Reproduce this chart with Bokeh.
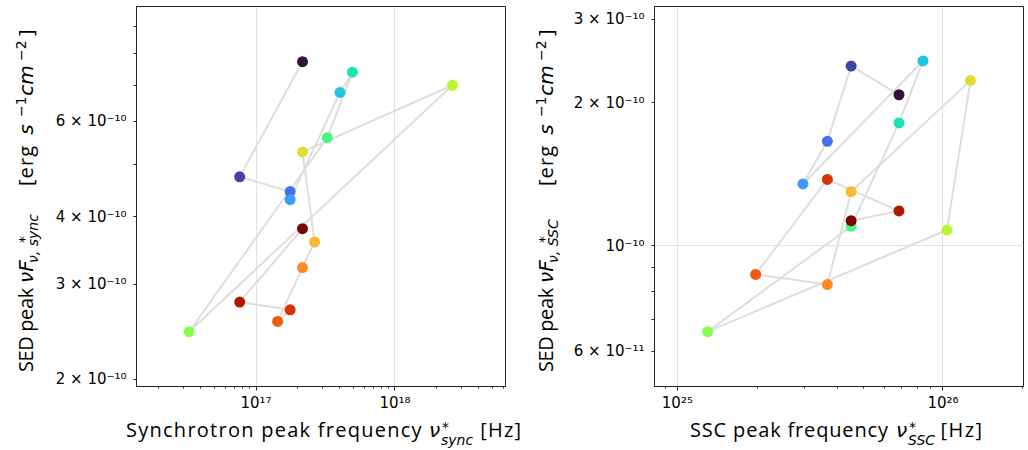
from bokeh.plotting import figure
from bokeh.layouts import row, column
from bokeh.models import (Range1d, FixedTicker, CustomJSTickFormatter, Div,
                          ColumnDataSource)
from bokeh.palettes import Turbo256
from bokeh.embed import file_html
from bokeh.resources import INLINE

# ---------------- data ----------------
sync_nu = [2.16e17, 7.63e16, 1.76e17, 1.76e17, 4.02e17, 4.94e17, 3.26e17, 3.30e16,
           2.59e18, 2.16e17, 2.64e17, 2.16e17, 1.43e17, 1.76e17, 7.63e16, 2.16e17]
sync_flux = [7.74e-10, 4.74e-10, 4.45e-10, 4.30e-10, 6.79e-10, 7.40e-10, 5.60e-10, 2.45e-10,
             7.00e-10, 5.27e-10, 3.59e-10, 3.22e-10, 2.56e-10, 2.69e-10, 2.78e-10, 3.80e-10]

ssc_nu = [6.83e25, 4.51e25, 3.67e25, 2.97e25, 8.41e25, 6.83e25, 4.51e25, 1.30e25,
          1.035e26, 1.27e26, 4.51e25, 3.67e25, 1.97e25, 3.67e25, 6.83e25, 4.51e25]
ssc_flux = [2.08e-10, 2.39e-10, 1.66e-10, 1.35e-10, 2.45e-10, 1.815e-10, 1.10e-10, 6.60e-11,
            1.08e-10, 2.23e-10, 1.30e-10, 8.29e-11, 8.71e-11, 1.38e-10, 1.185e-10, 1.13e-10]

# tick positions
sync_x_major = [1e17, 1e18]
sync_x_minor = [m * 10.0 ** e for e in (16, 17, 18) for m in range(2, 10)]
sync_y_major = [2e-10, 3e-10, 4e-10, 6e-10]
sync_y_minor = [5e-10, 7e-10, 8e-10, 9e-10]

ssc_x_major = [1e25, 1e26]
ssc_x_minor = [m * 10.0 ** e for e in (24, 25, 26) for m in range(2, 10)]
ssc_y_major = [6e-11, 1e-10, 2e-10, 3e-10]
ssc_y_minor = [5e-11, 7e-11, 8e-11, 9e-11, 4e-10]

n = len(sync_nu)
colors = [Turbo256[round(i * 255 / (n - 1))] for i in range(n)]

FMT = CustomJSTickFormatter(code="""
const e = Math.floor(Math.log10(tick) + 1e-9);
const m = Math.round(tick / Math.pow(10, e));
const sup = {'-':'\u207b','0':'\u2070','1':'\u00b9','2':'\u00b2','3':'\u00b3','4':'\u2074',
             '5':'\u2075','6':'\u2076','7':'\u2077','8':'\u2078','9':'\u2079'};
const es = String(e).split('').map(c => sup[c]).join('');
return (m === 1 ? '' : m + ' \u00d7 ') + '10' + es;
""")

TXT = "'Open Sans'"
MATH = "'DejaVu Sans'"
FH = 380          # frame height
FIG_H = 6 + FH + 28


def make(xs, ys, xr, yr, xmaj, xmin, ymaj, ymin, xgrid, ygrid, bl, fw, br):
    p = figure(x_axis_type="log", y_axis_type="log",
               x_range=Range1d(*xr), y_range=Range1d(*yr),
               frame_width=fw, frame_height=FH,
               min_border_left=bl, min_border_right=br,
               min_border_top=6, min_border_bottom=28,
               output_backend="svg", toolbar_location=None)
    p.outline_line_color = "#222222"
    p.outline_line_width = 1
    for ax, maj, mn in ((p.xaxis[0], xmaj, xmin), (p.yaxis[0], ymaj, ymin)):
        ax.ticker = FixedTicker(ticks=maj, minor_ticks=mn)
        ax.formatter = FMT
        ax.axis_line_color = "#222222"
        ax.major_tick_line_color = "#222222"
        ax.minor_tick_line_color = "#222222"
        ax.major_tick_in = 0
        ax.minor_tick_in = 0
        ax.major_label_text_font = "DejaVu Sans"
        ax.major_label_text_font_size = "15px"
        ax.major_label_text_color = "black"
    p.xaxis.major_tick_out = 4
    p.xaxis.minor_tick_out = 2
    p.xaxis.major_label_standoff = 3
    p.yaxis.major_tick_out = 3
    p.yaxis.minor_tick_out = 3
    p.yaxis.major_label_standoff = 7
    p.xgrid.ticker = FixedTicker(ticks=xgrid)
    p.ygrid.ticker = FixedTicker(ticks=ygrid)
    p.xgrid.grid_line_color = "#e3e3e3"
    p.ygrid.grid_line_color = "#e3e3e3"

    src = ColumnDataSource(dict(x=xs, y=ys, c=colors))
    p.line("x", "y", source=src, line_color="#dedede", line_width=2)
    p.scatter("x", "y", source=src, size=11, fill_color="c", line_color=None)
    return p


def ts(txt, x, y, size, fam, style="normal", length=None):
    tl = f' textLength="{length}" lengthAdjust="spacing"' if length else ""
    return (f'<tspan x="{x}" y="{y}"{tl} style="font-family:{fam};'
            f'font-size:{size}px;font-style:{style}">{txt}</tspan>')


def svg_div(spans, w, h, rot=False):
    tr = ' transform="rotate(-90)"' if rot else ""
    html = (f'<svg xmlns="http://www.w3.org/2000/svg" width="{w}" height="{h}" '
            f'style="display:block;overflow:visible">'
            f'<text{tr} fill="black">' + "".join(spans) + '</text></svg>')
    return Div(text=html, width=w, height=h, margin=0)


def ylabel(bx, sub):
    # rotated frame: x' = -page_y (start of each piece), y' = baseline page x
    return [
        ts("SED peak ", -372, bx, 20, TXT, length=89),
        ts("\u03bdF", -283, bx, 20, MATH, "italic"),
        ts("*", -243, bx - 4, 14, MATH),
        ts("\u03bd, " + sub, -263, bx + 5, 14, MATH, "italic"),
        ts("[erg", -186, bx, 20, TXT, length=40),
        ts(" s", -141, bx, 20, MATH, "italic"),
        ts("\u22121", -117, bx - 7, 14, MATH),
        ts(" cm", -102, bx, 20, MATH, "italic"),
        ts("\u22122", -61, bx - 7, 14, MATH),
        ts("]", -36, bx, 20, TXT),
    ]


p1 = make(sync_nu, sync_flux, (1.38e16, 6.24e18), (1.94e-10, 9.79e-10),
          sync_x_major, sync_x_minor, sync_y_major, sync_y_minor,
          [1e17, 1e18], [], 84, 369, 11)
p2 = make(ssc_nu, ssc_flux, (8.2e24, 2.01e26), (5.06e-11, 3.19e-10),
          ssc_x_major, ssc_x_minor, ssc_y_major, ssc_y_minor,
          [1e25, 1e26], [1e-10], 94, 369, 4)

y1 = svg_div(ylabel(33, "sync"), 52, FIG_H, rot=True)
y2 = svg_div(ylabel(37, "SSC"), 44, FIG_H, rot=True)

x1 = svg_div([
    ts("Synchrotron peak frequency ", 126, 23, 20, TXT, length=302),
    ts("\u03bd", 429, 23, 20, MATH, "italic"),
    ts("*", 442, 18, 14, MATH),
    ts("sync", 441, 31, 14, MATH, "italic"),
    ts(" [Hz]", 474, 23, 20, TXT, length=47),
], 516, 36)
x2 = svg_div([
    ts("SSC peak frequency ", 174, 23, 20, TXT, length=204),
    ts("\u03bd", 380, 23, 20, MATH, "italic"),
    ts("*", 393, 18, 14, MATH),
    ts("SSC", 392, 31, 14, MATH, "italic"),
    ts(" [Hz]", 418, 23, 20, TXT, length=48),
], 511, 36)

layout = column(row(y1, p1, y2, p2), row(x1, x2))
open("out.html", "w").write(file_html(layout, INLINE))
